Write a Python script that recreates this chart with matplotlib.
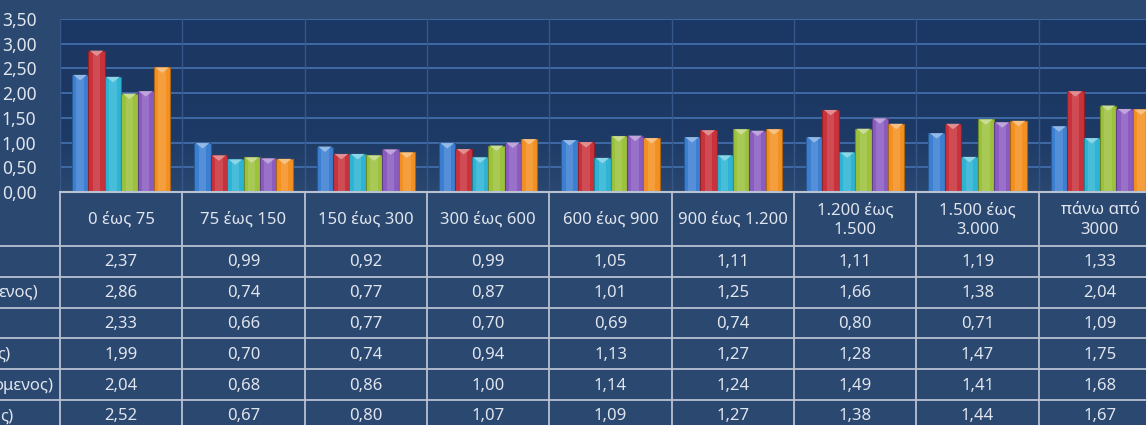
import numpy as np
import matplotlib
matplotlib.use("Agg")
import matplotlib.pyplot as plt
from matplotlib.patches import Polygon
import matplotlib.colors as mcolors

plt.rcParams['font.family'] = ['Noto Sans', 'DejaVu Sans']

categories = ["0 έως 75", "75 έως 150", "150 έως 300", "300 έως 600", "600 έως 900",
              "900 έως 1.200", "1.200 έως\n1.500", "1.500 έως\n3.000", "πάνω από\n3000"]
s1 = [2.37, 0.99, 0.92, 0.99, 1.05, 1.11, 1.11, 1.19, 1.33]
s2 = [2.86, 0.74, 0.77, 0.87, 1.01, 1.25, 1.66, 1.38, 2.04]
s3 = [2.33, 0.66, 0.77, 0.70, 0.69, 0.74, 0.80, 0.71, 1.09]
s4 = [1.99, 0.70, 0.74, 0.94, 1.13, 1.27, 1.28, 1.47, 1.75]
s5 = [2.04, 0.68, 0.86, 1.00, 1.14, 1.24, 1.49, 1.41, 1.68]
s6 = [2.52, 0.67, 0.80, 1.07, 1.09, 1.27, 1.38, 1.44, 1.67]
# row labels are cut off at the left edge of the picture, only the tails show
row_labels = ["", "ενος)", "", "ς)", "ομενος)", "ς)"]
yticks = [0, 0.5, 1.0, 1.5, 2.0, 2.5, 3.0, 3.5]

series = [s1, s2, s3, s4, s5, s6]
colors = ["#3b7fd2", "#c9323b", "#2db4d4", "#9cc23c", "#8a5cc0", "#f39022"]

W, H = 1146, 425
bg = "#2b4870"
txt = "#e0e5ee"
linec = "#b8c2d2"
fs = 12

fig = plt.figure(figsize=(W / 100, H / 100), dpi=100, facecolor=bg)

# pixel geometry
x_left = 60
col_w = 122.35
n = len(categories)
y_zero = 192
y_top = 19

ax = fig.add_axes([x_left / W, (H - y_zero) / H, n * col_w / W, (y_zero - y_top) / H])
ax.set_xlim(-0.5, n - 0.5)
ax.set_ylim(0, 3.5)
ax.set_facecolor("none")

# plot area gradient
grad = np.linspace(0, 1, 256).reshape(-1, 1)
cmap = mcolors.LinearSegmentedColormap.from_list("pa", ["#2a4770", "#1d3a66", "#1b3762", "#1c3864"])
ax.imshow(grad, extent=[-0.5, n - 0.5, 0, 3.5], aspect="auto", cmap=cmap, origin="lower", zorder=0)

for y in yticks[1:]:
    ax.axhline(y, color="#3f6aa6", lw=1.4, zorder=1)
for k in range(n + 1):
    ax.axvline(k - 0.5, color="#36578a", lw=1.0, zorder=1)

bw = 0.134
for i, (s, c) in enumerate(zip(series, colors)):
    xs = np.arange(n) + (i - 2.5) * bw
    dark = tuple(np.array(mcolors.to_rgb(c)) * 0.7)
    light = tuple(np.array(mcolors.to_rgb(c)) * 0.55 + 0.45)
    bars = ax.bar(xs, s, width=bw, color=c, edgecolor=dark, linewidth=0.8, zorder=3)
    ax.bar(xs, s, width=bw * 0.45, color="white", alpha=0.13, linewidth=0, zorder=4)
    for b in bars:
        x0 = b.get_x()
        x1 = x0 + b.get_width()
        h = b.get_height()
        tri = Polygon([(x0 + 0.01, h), (x1 - 0.01, h), ((x0 + x1) / 2, h - 0.11)],
                      closed=True, facecolor=light, edgecolor="none", zorder=5)
        ax.add_patch(tri)

ax.set_xticks([])
ax.set_yticks(yticks)
ax.set_yticklabels([f"{v:.2f}".replace(".", ",") for v in yticks], color=txt, fontsize=12.5)
ax.tick_params(axis="y", length=0, pad=17)
for sp in ax.spines.values():
    sp.set_visible(False)

# data table below the plot
tab = fig.add_axes([x_left / W, 0, n * col_w / W, (H - y_zero) / H])
tab.set_xlim(-0.5, n - 0.5)
tab.set_ylim(H, y_zero)
tab.axis("off")

x_edge = -0.5 - x_left / col_w
header_bottom = 246
row_h = 30.8
row_tops = [header_bottom + r * row_h for r in range(len(series))]

tab.plot([-0.5, n - 0.5], [y_zero, y_zero], color=linec, lw=1.5, clip_on=False)
for yt in row_tops:
    tab.plot([x_edge, n - 0.5], [yt, yt], color=linec, lw=1.3, clip_on=False)
for k in range(n + 1):
    tab.plot([k - 0.5, k - 0.5], [y_zero, H], color=linec, lw=1.3, clip_on=False)

for j, cat in enumerate(categories):
    tab.text(j, (y_zero + header_bottom) / 2 + 1, cat, ha="center", va="center",
             color=txt, fontsize=fs, linespacing=1.25)

for r, s in enumerate(series):
    yc = row_tops[r] + row_h / 2 + 1
    for j, v in enumerate(s):
        tab.text(j, yc, f"{v:.2f}".replace(".", ","), ha="center", va="center",
                 color=txt, fontsize=fs)

label_end = [-0.5, 38, -0.5, 10, 53, 13]
for r, lab in enumerate(row_labels):
    if lab:
        yc = row_tops[r] + row_h / 2 + 1
        tab.text(-0.5 + (label_end[r] - x_left) / col_w, yc, lab, ha="right", va="center",
                 color=txt, fontsize=fs, clip_on=False)

fig.savefig("out.png", dpi=100, facecolor=bg)
